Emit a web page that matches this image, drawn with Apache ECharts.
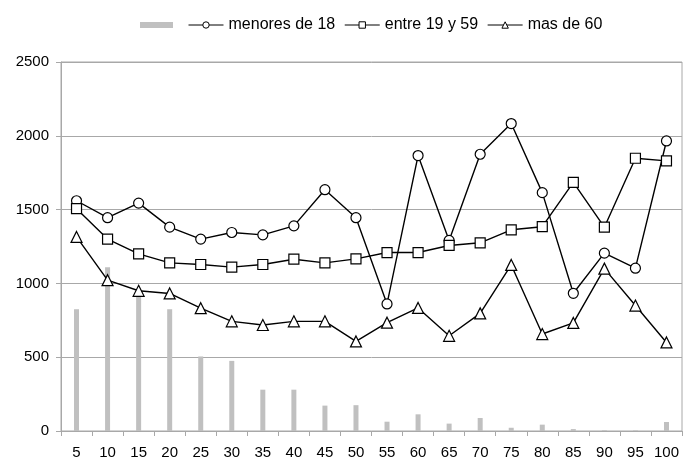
<!DOCTYPE html>
<html>
<head>
<meta charset="utf-8">
<script src="https://cdn.jsdelivr.net/npm/echarts@6/dist/echarts.min.js"></script>
<style>
  html, body { margin: 0; padding: 0; background: #fff; }
  #chart { width: 683px; height: 461px; }
</style>
</head>
<body>
<div id="chart"></div>
<script>
// categorias del eje x
var categorias = ["5", "10", "15", "20", "25", "30", "35", "40", "45", "50",
  "55", "60", "65", "70", "75", "80", "85", "90", "95", "100"];

// barras grises (serie sin nombre)
var barras = [825, 1110, 950, 825, 505, 475, 280, 280, 172, 175,
  63, 113, 50, 88, 22, 43, 13, 5, 4, 61];

var menores18 = [1560, 1445, 1544, 1381, 1300, 1345, 1329, 1390, 1635, 1445,
  861, 1866, 1291, 1875, 2083, 1615, 933, 1205, 1103, 1965];

var entre19y59 = [1506, 1300, 1200, 1139, 1128, 1110, 1128, 1164, 1139, 1166,
  1209, 1209, 1257, 1275, 1363, 1384, 1685, 1381, 1848, 1830];

var mas60 = [1315, 1022, 950, 932, 832, 743, 718, 743, 743, 607,
  734, 834, 645, 797, 1125, 657, 732, 1100, 850, 600];

var fuente = "Liberation Sans, Arial, sans-serif";

var myChart = echarts.init(document.getElementById("chart"));

function serieLinea(nombre, datos, simbolo, tam) {
  return {
    type: "line",
    name: nombre,
    data: datos,
    symbol: simbolo,
    symbolSize: tam,
    z: 3,
    animation: false,
    lineStyle: { color: "#000", width: 1.4 },
    itemStyle: { color: "#fff", borderColor: "#000", borderWidth: 1.2 }
  };
}

var option = {
  animation: false,
  textStyle: { fontFamily: fuente },
  legend: [
    {
      left: 135,
      top: 12,
      itemWidth: 33,
      itemHeight: 6,
      data: [{ name: " ", icon: "rect" }],
      textStyle: { fontSize: 16, color: "#000", fontFamily: fuente }
    },
    {
      left: 183,
      top: 12,
      itemWidth: 35,
      itemHeight: 8,
      itemGap: 9,
      data: ["menores de 18", "entre 19 y 59", "mas de 60"],
      lineStyle: { width: 1 },
      itemStyle: { borderWidth: 1 },
      textStyle: { fontSize: 16, color: "#000", fontFamily: fuente }
    }
  ],
  grid: {
    left: 61,
    right: 1,
    top: 62,
    bottom: 30,
    show: true,
    borderColor: "#a8a8a8",
    borderWidth: 1
  },
  xAxis: {
    type: "category",
    data: categorias,
    axisLine: { lineStyle: { color: "#a8a8a8" } },
    axisTick: { show: true, interval: 0, length: 5, lineStyle: { color: "#a8a8a8" } },
    axisLabel: { interval: 0, color: "#000", fontSize: 15, margin: 14, fontFamily: fuente }
  },
  yAxis: {
    type: "value",
    min: 0,
    max: 2500,
    interval: 500,
    axisLine: { show: true, lineStyle: { color: "#a8a8a8" } },
    axisTick: { show: true, length: 5, lineStyle: { color: "#a8a8a8" } },
    axisLabel: {
      color: "#000", fontSize: 15, margin: 12, fontFamily: fuente,
      formatter: function (v) { return String(v); }
    },
    splitLine: { show: true, lineStyle: { color: "#a8a8a8", width: 1 } }
  },
  series: [
    {
      type: "bar",
      name: " ",
      data: barras,
      barWidth: 5,
      z: 1,
      itemStyle: { color: "#c0c0c0" }
    },
    serieLinea("menores de 18", menores18, "circle", 10),
    serieLinea("entre 19 y 59", entre19y59, "rect", 10),
    serieLinea("mas de 60", mas60, "triangle", 11)
  ]
};

myChart.setOption(option);
</script>
</body>
</html>
